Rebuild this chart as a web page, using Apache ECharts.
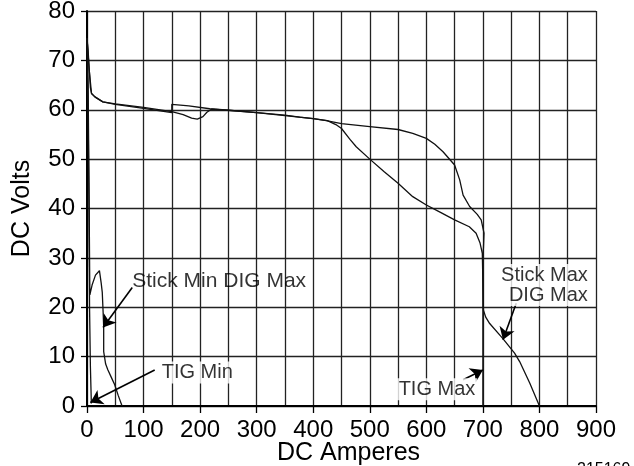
<!DOCTYPE html>
<html>
<head>
<meta charset="utf-8">
<script src="https://cdn.jsdelivr.net/npm/echarts@6/dist/echarts.min.js"></script>
<style>
  html, body { margin: 0; padding: 0; background: #fff; }
  #chart { width: 634px; height: 466px; }
</style>
</head>
<body>
<div id="chart"></div>
<script>
// volt-ampere curves, [amps, volts]
const stickMaxCurve = [
  [0, 74.5], [2, 72], [4, 68], [6, 64.5], [8, 63.3], [14, 62.6], [28, 61.6], [50, 61.2],
  [100, 60.5], [150, 59.6], [170, 59], [185, 58.3], [195, 58.1], [205, 58.6], [212, 59.5],
  [220, 60.1], [250, 59.9], [300, 59.4], [350, 58.8], [400, 58.2], [425, 57.8], [440, 57],
  [450, 56.2], [465, 54], [476, 52.5], [500, 50], [525, 47.5], [550, 45.1], [576, 42.4],
  [600, 40.7], [625, 39.2], [650, 37.7], [676, 36.3], [688, 35], [695, 33], [699, 30.9],
  [700, 25], [701, 19.4], [705, 18], [712, 16.7], [735, 13.7], [756, 10.7], [765, 9],
  [783, 4.6], [800, 0]
];
const tigMaxCurve = [
  [0, 74.5], [4, 68], [8, 63.3], [14, 62.6], [28, 61.6], [50, 61.1], [100, 60.3], [150, 59.4],
  [150, 61.1], [180, 60.8], [217, 60.2], [250, 59.9], [300, 59.4], [350, 58.9], [376, 58.5],
  [400, 58.2], [423, 57.8], [450, 57.2], [500, 56.6], [550, 56], [576, 55.2], [600, 54.2],
  [615, 53], [629.5, 51.5], [650, 48.8], [659, 45.8], [665, 42.7], [676.6, 40.4], [690, 38.8],
  [697, 37.7], [702, 35], [701, 32], [700, 30.9], [700, 0]
];
const stickMinCurve = [
  [0, 74.5], [2, 65], [3.5, 45], [4.5, 30], [5, 22.5], [9, 24.5], [15, 26.5], [22, 27.4],
  [25, 25], [27, 23], [28.5, 19], [29.5, 16], [29.5, 11], [33, 8.5], [37, 7.3], [43, 5.8],
  [49, 4.3], [55, 2.2], [62, 0]
];
const tigMinCurve = [
  [0, 74.5], [2, 60], [3.5, 40], [4.5, 20], [6, 8], [7.7, 0.5]
];

// callouts
const noteTexts = ['Stick Min DIG Max', 'TIG Min', 'TIG Max', 'Stick Max\nDIG Max'];
const noteAnchors = [[80, 25.2], [128.5, 6.8], [547.5, 3.4], [889, 24.5]];
const arrowTails = [[80, 24], [119.7, 7.3], [665, 5.3], [759, 20.8]];
const arrowHeads = [[28.3, 15.9], [6, 0.7], [700, 7.3], [735.5, 13.4]];

const xTicks = [0, 900, 100];
const yTicks = [0, 80, 10];

const FONT = '"Liberation Sans", Arial, Helvetica, sans-serif';

const chart = echarts.init(document.getElementById('chart'));

function curve(data) {
  return {
    type: 'line',
    data: data,
    symbol: 'none',
    silent: true,
    lineStyle: { color: '#111', width: 1.3 },
    z: 3
  };
}

const notes = noteTexts.map(function (t, i) {
  const right = i === 3;
  const boxed = i > 0;
  return {
    value: noteAnchors[i],
    label: {
      show: true,
      formatter: t,
      position: 'inside',
      align: right ? 'right' : 'left',
      verticalAlign: 'middle',
      fontFamily: FONT,
      fontSize: i === 0 ? 21 : 20,
      lineHeight: 20,
      color: '#000',
      textBorderWidth: 0,
      backgroundColor: boxed ? '#fff' : 'transparent',
      padding: boxed ? [1, 2] : 0
    }
  };
});

const arrows = arrowTails.map(function (t, i) {
  return [{ coord: t }, { coord: arrowHeads[i] }];
});

chart.setOption({
  animation: false,
  grid: { left: 87, right: 38, top: 11, bottom: 60, containLabel: false, outerBoundsMode: 'none' },
  xAxis: {
    type: 'value',
    min: xTicks[0],
    max: xTicks[1],
    interval: xTicks[2],
    name: 'DC Amperes',
    nameLocation: 'middle',
    nameGap: 35,
    nameMoveOverlap: false,
    nameTextStyle: { fontFamily: FONT, fontSize: 25, color: '#000', padding: [0, 0, 0, 14] },
    axisLine: { onZero: false, lineStyle: { color: '#000', width: 2 } },
    axisTick: { show: true, length: 7, lineStyle: { color: '#000', width: 1.3 } },
    axisLabel: { fontFamily: FONT, fontSize: 24, color: '#000', margin: 12 },
    splitLine: { show: true, lineStyle: { color: '#222', width: 1.3 } },
    minorTick: { show: false, splitNumber: 2 },
    minorSplitLine: { show: true, lineStyle: { color: '#222', width: 1.3 } }
  },
  yAxis: {
    type: 'value',
    min: yTicks[0],
    max: yTicks[1],
    interval: yTicks[2],
    name: 'DC Volts',
    nameLocation: 'middle',
    nameGap: 52,
    nameTextStyle: { fontFamily: FONT, fontSize: 25, color: '#000' },
    axisLine: { show: true, onZero: false, lineStyle: { color: '#000', width: 2 } },
    axisTick: { show: true, length: 6, lineStyle: { color: '#000', width: 1.3 } },
    axisLabel: { fontFamily: FONT, fontSize: 24, color: '#000', margin: 12 },
    splitLine: { show: true, lineStyle: { color: '#222', width: 1.3 } }
  },
  graphic: [{
    type: 'text',
    left: 577,
    top: 462,
    style: { text: '215169', font: '16px ' + FONT, fill: '#000' }
  }],
  series: [
    curve(stickMaxCurve),
    curve(tigMaxCurve),
    curve(stickMinCurve),
    curve(tigMinCurve),
    {
      type: 'scatter',
      data: notes,
      symbolSize: 1,
      itemStyle: { color: 'rgba(0,0,0,0)' },
      silent: true,
      z: 5,
      markLine: {
        silent: true,
        symbol: ['none', 'arrow'],
        symbolSize: 12,
        label: { show: false },
        lineStyle: { color: '#000', width: 1.6, type: 'solid' },
        itemStyle: { color: '#000' },
        data: arrows
      }
    }
  ]
});
</script>
</body>
</html>
